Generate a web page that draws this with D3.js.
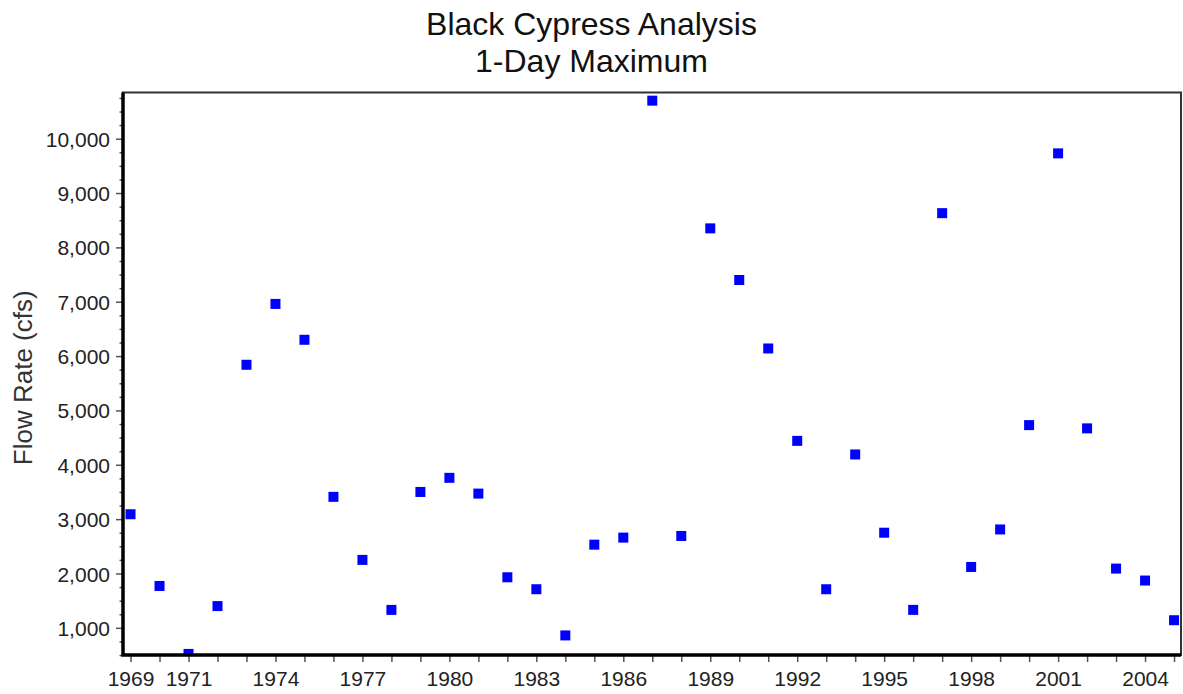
<!DOCTYPE html>
<html>
<head>
<meta charset="utf-8">
<title>Black Cypress Analysis</title>
<script src="https://cdn.jsdelivr.net/npm/d3@7"></script>
<style>
    html, body { margin: 0; padding: 0; background: #fff; }
    svg { display: block; }
</style>
</head>
<body>
<div id="chart"></div>
<script>
// Water years on the x axis
const YEARS = [
    1969, 1970, 1971, 1972, 1973, 1974, 1975, 1976, 1977, 1978,
    1979, 1980, 1981, 1982, 1983, 1984, 1985, 1986, 1987, 1988,
    1989, 1990, 1991, 1992, 1993, 1994, 1995, 1996, 1997, 1998,
    1999, 2000, 2001, 2002, 2003, 2004, 2005
];

// 1-day maximum flow (cfs), one per year
const FLOWS = [
    3090, 1770, 520, 1400, 5840, 6960, 6300, 3410, 2250, 1330,
    3500, 3760, 3470, 1930, 1710, 860, 2530, 2660, 10700, 2690,
    8350, 7400, 6140, 4440, 1710, 4190, 2750, 1330, 8630, 2120,
    2810, 4730, 9730, 4670, 2090, 1870, 1140
];

// Labelled years and labelled flow values
const X_LABELS = [1969, 1971, 1974, 1977, 1980, 1983, 1986, 1989, 1992, 1995, 1998, 2001, 2004];
const Y_LABELS = [1000, 2000, 3000, 4000, 5000, 6000, 7000, 8000, 9000, 10000];

const TITLE_LINES = ["Black Cypress Analysis", "1-Day Maximum"];
const Y_TITLE = "Flow Rate (cfs)";

// Layout / styling
const CONFIG = {
    width: 1183,
    height: 694,
    margin: { top: 92.5, right: 2, bottom: 39, left: 123 },
    xDomain: [1968.74, 2005.24],
    yDomain: [500, 10850],
    marker: 10,
    pointColor: "#0000ff",
    textColor: "#111",
    font: "'Liberation Sans', Arial, sans-serif"
};

function drawChart(containerId) {
    const { width, height, margin } = CONFIG;
    const x0 = margin.left, x1 = width - margin.right;
    const y0 = height - margin.bottom, y1 = margin.top;

    const x = d3.scaleLinear().domain(CONFIG.xDomain).range([x0, x1]);
    const y = d3.scaleLinear().domain(CONFIG.yDomain).range([y0, y1]);

    const svg = d3.select(`#${containerId}`)
        .append("svg")
        .attr("width", width)
        .attr("height", height)
        .style("font-family", CONFIG.font);

    svg.append("defs").append("clipPath")
        .attr("id", "plot-clip")
        .append("rect")
        .attr("x", x0).attr("y", y1)
        .attr("width", x1 - x0).attr("height", y0 - y1);

    // Title
    svg.append("g")
        .selectAll("text")
        .data(TITLE_LINES)
        .join("text")
        .attr("x", width / 2)
        .attr("y", (d, i) => 35 + i * 37)
        .attr("text-anchor", "middle")
        .attr("font-size", "32px")
        .attr("fill", CONFIG.textColor)
        .text(d => d);

    // Y axis title
    svg.append("text")
        .attr("transform", `translate(32,${(y0 + y1) / 2 + 4}) rotate(-90)`)
        .attr("text-anchor", "middle")
        .attr("font-size", "26px")
        .attr("fill", "#333")
        .text(Y_TITLE);

    // Y axis: minor ticks every 250, labels every 1000
    const yMinor = d3.range(500, CONFIG.yDomain[1], 250);
    const yAxis = d3.axisLeft(y)
        .tickValues(yMinor)
        .tickSize(0)
        .tickFormat("");
    const yg = svg.append("g").attr("transform", `translate(${x0},0)`).call(yAxis);
    yg.select(".domain").remove();
    yg.selectAll(".tick line")
        .attr("x2", d => Y_LABELS.includes(d) ? -7 : -3.5)
        .attr("stroke", "#555")
        .attr("stroke-width", 1.5);
    yg.selectAll(".tick")
        .filter(d => Y_LABELS.includes(d))
        .append("text")
        .attr("x", -13)
        .attr("dy", "0.36em")
        .attr("text-anchor", "end")
        .attr("font-size", "21px")
        .attr("fill", "#222")
        .text(d3.format(","));

    // X axis: tick every year, label selected years
    const xAxis = d3.axisBottom(x)
        .tickValues(YEARS)
        .tickSize(7)
        .tickFormat(d => X_LABELS.includes(d) ? d : "");
    const xg = svg.append("g").attr("transform", `translate(0,${y0})`).call(xAxis);
    xg.select(".domain").remove();
    xg.selectAll(".tick line").attr("stroke", "#555").attr("stroke-width", 1.5);
    xg.selectAll(".tick text")
        .attr("y", 16)
        .attr("dy", "0.71em")
        .attr("font-size", "21px")
        .attr("font-family", CONFIG.font)
        .attr("fill", "#222");

    // Points
    svg.append("g")
        .attr("clip-path", "url(#plot-clip)")
        .selectAll("rect")
        .data(YEARS.map((yr, i) => ({ year: yr, flow: FLOWS[i] })))
        .join("rect")
        .attr("x", d => x(d.year) - CONFIG.marker / 2)
        .attr("y", d => y(d.flow) - CONFIG.marker / 2)
        .attr("width", CONFIG.marker)
        .attr("height", CONFIG.marker)
        .attr("fill", CONFIG.pointColor);

    // Frame: thin top/right, heavy left/bottom
    svg.append("rect")
        .attr("x", x0).attr("y", y1)
        .attr("width", x1 - x0).attr("height", y0 - y1)
        .attr("fill", "none")
        .attr("stroke", "#333")
        .attr("stroke-width", 2);
    svg.append("path")
        .attr("d", `M${x0},${y1}V${y0}H${x1}`)
        .attr("fill", "none")
        .attr("stroke", "#000")
        .attr("stroke-width", 3.5);
}

drawChart("chart");
</script>
</body>
</html>
